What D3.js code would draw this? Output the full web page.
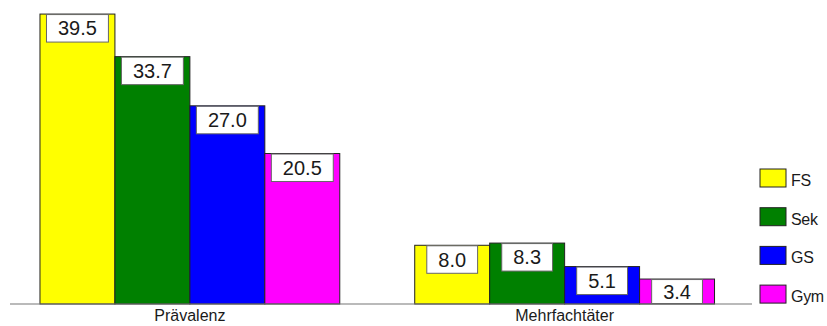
<!DOCTYPE html>
<html>
<head>
<meta charset="utf-8">
<script src="https://cdn.jsdelivr.net/npm/d3@7/dist/d3.min.js"></script>
<style>
  html, body { margin: 0; padding: 0; background: #fff; }
  svg { display: block; font-family: Arial, "Liberation Sans", sans-serif; }
</style>
</head>
<body>
<svg id="chart" width="827" height="326"></svg>
<script>
// Categories, series and values
const categories = ["Prävalenz", "Mehrfachtäter"];
const seriesNames = ["FS", "Sek", "GS", "Gym"];
const seriesColors = ["#ffff00", "#008000", "#0000ff", "#ff00ff"];
const valuesFS  = [39.5, 8.0];
const valuesSek = [33.7, 8.3];
const valuesGS  = [27.0, 5.1];
const valuesGym = [20.5, 3.4];

const seriesValues = [valuesFS, valuesSek, valuesGS, valuesGym];

const svg = d3.select("#chart");
const baseY = 304;

const x0 = d3.scaleBand().domain(categories).range([2.5, 752]).paddingInner(0.2).paddingOuter(0.1);
const x1 = d3.scaleBand().domain(seriesNames).range([0, x0.bandwidth()]).padding(0);
const y = d3.scaleLinear().domain([0, 40]).range([baseY, 10.4]);

const rows = [];
categories.forEach((c, ci) => {
  seriesNames.forEach((s, si) => {
    rows.push({ cat: c, series: s, value: seriesValues[si][ci], color: seriesColors[si] });
  });
});

// Bars
svg.append("g").selectAll("rect")
  .data(rows)
  .join("rect")
  .attr("x", d => x0(d.cat) + x1(d.series))
  .attr("y", d => y(d.value))
  .attr("width", x1.bandwidth())
  .attr("height", d => y(0) - y(d.value))
  .attr("fill", d => d.color)
  .attr("stroke", "#222")
  .attr("stroke-width", 1);

// Baseline
svg.append("line")
  .attr("x1", 10).attr("x2", 752)
  .attr("y1", y(0)).attr("y2", y(0))
  .attr("stroke", "#777").attr("stroke-width", 1.2);

// Value labels in white boxes
const lbl = svg.append("g").selectAll("g")
  .data(rows)
  .join("g");

lbl.each(function(d) {
  const g = d3.select(this);
  const cx = x0(d.cat) + x1(d.series) + x1.bandwidth() / 2;
  const top = y(d.value) + 0.5;
  const h = Math.min(27.5, y(0) - top - 0.5);
  const t = g.append("text")
    .attr("x", cx)
    .attr("y", top + h / 2 + 7)
    .attr("text-anchor", "middle")
    .attr("font-size", 20)
    .attr("fill", "#1a1a1a")
    .text(d.value.toFixed(1));
  const w = t.node().getComputedTextLength() + 23;
  g.insert("rect", "text")
    .attr("x", cx - w / 2)
    .attr("y", top)
    .attr("width", w)
    .attr("height", h)
    .attr("fill", "#fff")
    .attr("stroke", "#666")
    .attr("stroke-width", 1);
});

// Category labels
svg.append("g").selectAll("text")
  .data(categories)
  .join("text")
  .attr("x", d => x0(d) + x0.bandwidth() / 2)
  .attr("y", 321)
  .attr("text-anchor", "middle")
  .attr("font-size", 16)
  .attr("fill", "#1a1a1a")
  .text(d => d);

// Legend
const legend = svg.append("g").selectAll("g")
  .data(seriesNames)
  .join("g")
  .attr("transform", (d, i) => `translate(760, ${169 + i * 38.7})`);

legend.append("rect")
  .attr("width", 26).attr("height", 18)
  .attr("fill", (d, i) => seriesColors[i])
  .attr("stroke", "#222").attr("stroke-width", 1);

legend.append("text")
  .attr("x", 31).attr("y", 17)
  .attr("font-size", 16)
  .attr("letter-spacing", -0.3)
  .attr("fill", "#1a1a1a")
  .text(d => d);
</script>
</body>
</html>
